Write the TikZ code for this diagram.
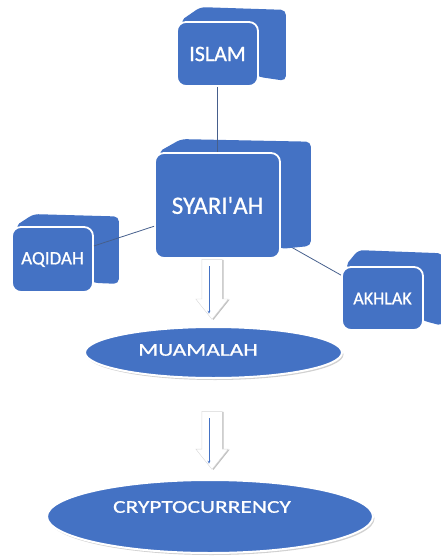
\documentclass[tikz,border=0pt]{standalone}
\usepackage{fontspec}
\setmainfont{Carlito}
\newfontfamily\boxfont[FakeBold=0.8]{Carlito}
\newfontfamily\ovalfont[FakeStretch=1.3, FakeBold=0.8]{Carlito}
\usetikzlibrary{shapes.geometric, shapes.arrows, arrows.meta, positioning, calc, backgrounds, shadows}
\definecolor{boxblue}{RGB}{68,114,196}
\definecolor{linkblue}{RGB}{70,95,140}

\begin{document}
\begin{tikzpicture}[
    x=1pt, y=-1pt,
    box/.style={rectangle, rounded corners=9pt, fill=boxblue, draw=white, line width=1.8pt, text=white, inner sep=0pt},
    oval/.style={ellipse, fill=boxblue, draw=white, line width=2pt, inner sep=0pt, drop shadow={shadow xshift=1.5pt, shadow yshift=-2pt, fill=gray!60, opacity=0.6}},
    ovaltext/.style={text=white, font=\ovalfont\fontsize{18}{18}\selectfont},
    flow/.style={single arrow, shape border rotate=270, fill=white, draw=gray!30, thin, inner sep=10pt, single arrow head extend=6pt, single arrow tip angle=77, drop shadow={shadow xshift=1.5pt, shadow yshift=-0.5pt, fill=gray!80, opacity=0.6}},
    link/.style={draw=linkblue, line width=0.8pt},
    arrow/.style={->, >=stealth, draw=boxblue, thin}
]
\useasboundingbox (0,0) rectangle (441,556);

% kotak
\node[box, minimum width=81pt, minimum height=64pt, font=\boxfont\fontsize{22}{22}\selectfont] (islam) at (217.5,54) {ISLAM};
\node[box, minimum width=125pt, minimum height=105pt, font=\boxfont\fontsize{25}{25}\selectfont] (syariah) at (217.5,205.5) {SYARI\textquotesingle AH};
\node[box, minimum width=81pt, minimum height=65pt, font=\boxfont\fontsize{19}{19}\selectfont] (aqidah) at (52.5,259.5) {AQIDAH};
\node[box, minimum width=81pt, minimum height=63pt, font=\boxfont\fontsize{18}{18}\selectfont] (akhlak) at (382.5,298.5) {AKHLAK};

% sisi belakang kotak
\begin{scope}[on background layer]
\draw[link] (syariah) -- (akhlak);
\foreach \n/\dx/\dy/\dz in {islam/27/14/6, syariah/30/13/13, aqidah/25/12/9, akhlak/19/16/5}
  \fill[boxblue, rounded corners=5pt] (\n.center) -- ($(\n.north west)+(4,0)$) -- ($(\n.north west)+(\dx*0.9,-\dy)$)
    -- ($(\n.north east)+(\dx,-\dy*0.8)$) -- ($(\n.south east)+(\dx,-\dz)$) -- ($(\n.south east)+(0,-10)$) -- cycle;
\end{scope}

% garis
\draw[link] (islam) -- (syariah);
\draw[link] (aqidah) -- (syariah);

% panah
\node[flow, minimum height=60pt] (down1) at (212,283) {};
\draw[arrow] ([xshift=-3pt,yshift=-7pt]down1.tail) -- ([xshift=-3pt,yshift=6pt]down1.tip);
\node[flow, minimum height=58pt] (down2) at (212,434) {};
\draw[arrow] ([xshift=-3pt,yshift=-7pt]down2.tail) -- ([xshift=-3pt,yshift=6pt]down2.tip);

% elips
\node[oval, minimum width=257pt, minimum height=51pt, label={[ovaltext, xshift=-15.5pt, yshift=2.5pt]center:MUAMALAH}] (muamalah) at (213.5,352.5) {};
\node[oval, minimum width=326pt, minimum height=73pt, label={[ovaltext, xshift=-8pt, yshift=9.5pt]center:CRYPTOCURRENCY}] (crypto) at (210,516.5) {};

\end{tikzpicture}
\end{document}
